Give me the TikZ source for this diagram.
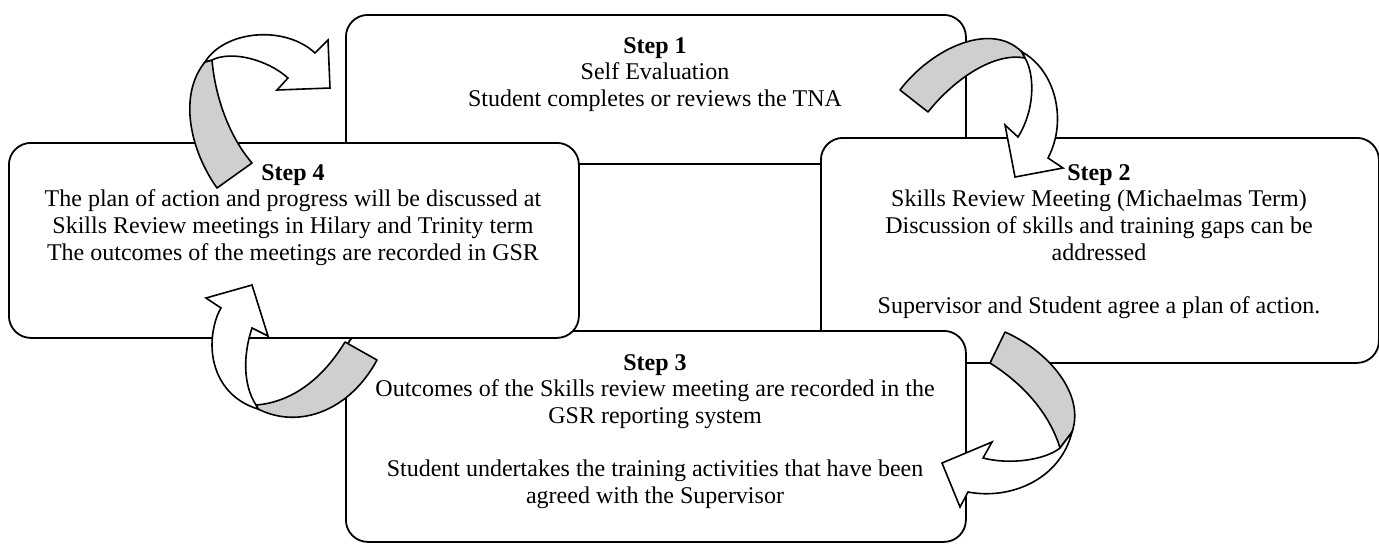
\documentclass[tikz,border=0pt]{standalone}
\usepackage{fontspec}
\setmainfont{Liberation Serif}
\definecolor{backgrey}{RGB}{207,207,207}
\tikzset{
  stepbox/.style={draw, line width=0.9pt, rounded corners=11pt, fill=white,
    anchor=north west, inner sep=0pt},
  steptext/.style={anchor=north, align=center, inner sep=0pt,
    font=\fontsize{12pt}{13.3pt}\selectfont},
  backface/.style={draw, line width=0.8pt, fill=backgrey, line join=round},
  frontface/.style={draw, line width=0.8pt, fill=white, line join=miter},
}
\begin{document}
\begin{tikzpicture}[x=0.5pt, y=-0.5pt]
\useasboundingbox (0,0) rectangle (1379,543);

% the four step boxes, later ones overlapping earlier ones
\node[stepbox, minimum width=310pt, minimum height=74.5pt]  (s1) at (345,14)  {};
\node[stepbox, minimum width=279pt, minimum height=112.5pt] (s2) at (820,137) {};
\node[stepbox, minimum width=310pt, minimum height=105.5pt] (s3) at (345,330) {};
\node[stepbox, minimum width=285pt, minimum height=97.5pt]  (s4) at (8,142)   {};

% box texts
\node[steptext] (t1) at (655,37) {\textbf{Step 1}\\Self Evaluation\\Student completes or reviews the TNA};
\node[steptext] (t2) at (1099,164) {\textbf{Step 2}\\Skills Review Meeting (Michaelmas Term)\\Discussion of skills and training gaps can be\\addressed\\[13.3pt]Supervisor and Student agree a plan of action.};
\node[steptext] (t3) at (655,354) {\textbf{Step 3}\\Outcomes of the Skills review meeting are recorded in the\\GSR reporting system\\[13.3pt]Student undertakes the training activities that have been\\agreed with the Supervisor};
\node[steptext] (t4) at (293,164) {\textbf{Step 4}\\The plan of action and progress will be discussed at\\Skills Review meetings in Hilary and Trinity term\\The outcomes of the meetings are recorded in GSR};

% curved arrow from step 4 to step 1
\draw[backface] (217,188) .. controls (190,150) and (178,95) .. (205,62)
  -- (212,60) .. controls (215,95) and (228,135) .. (252,163) -- cycle;
\draw[frontface] (205,62) .. controls (225,30) and (285,25) .. (315,53)
  -- (328,40) -- (330,88) -- (277,90) -- (288,78)
  .. controls (268,60) and (232,50) .. (212,60) -- cycle;

% curved arrow from step 1 to step 2
\draw[backface] (900,90) .. controls (930,50) and (990,20) .. (1022,52)
  -- (1025,58) .. controls (995,52) and (955,78) .. (928,112) -- cycle;
\draw[frontface] (1022,52) .. controls (1055,70) and (1068,120) .. (1048,158)
  -- (1063,168) -- (1015,177) -- (1005,125) -- (1018,137)
  .. controls (1035,110) and (1035,75) .. (1025,58) -- cycle;

% curved arrow from step 2 to step 3
\draw[backface] (1005,332) .. controls (1050,352) and (1085,395) .. (1072,432)
  -- (1060,448) .. controls (1050,415) and (1025,385) .. (990,363) -- cycle;
\draw[frontface] (1072,432) .. controls (1060,480) and (1010,500) .. (968,492)
  -- (960,507) -- (942,463) -- (992,442) -- (983,458)
  .. controls (1010,465) and (1045,460) .. (1060,448) -- cycle;

% curved arrow from step 3 to step 4
\draw[backface] (345,342) .. controls (325,375) and (295,402) .. (256,405)
  -- (258,409) .. controls (300,430) and (350,410) .. (377,360) -- cycle;
\draw[frontface] (258,409) .. controls (222,398) and (208,365) .. (213,332)
  .. controls (215,320) and (218,313) .. (221,308)
  -- (206,298) -- (252,285) -- (268,336) -- (252,328)
  .. controls (243,355) and (243,385) .. (256,405) -- cycle;
\end{tikzpicture}
\end{document}
